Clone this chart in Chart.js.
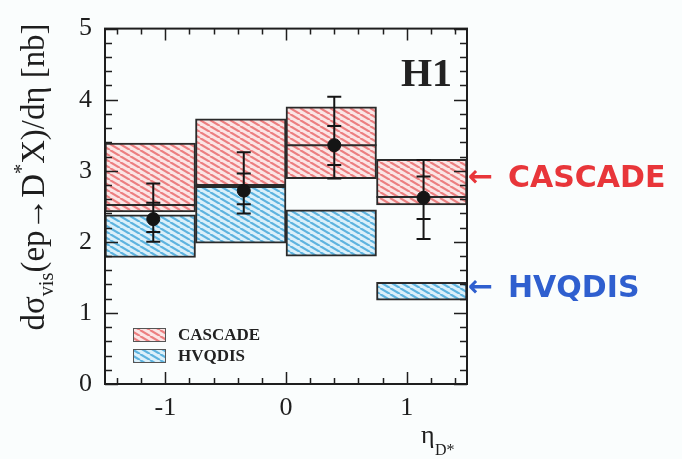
<!DOCTYPE html>
<html>
<head>
<meta charset="utf-8">
<script src="https://cdn.jsdelivr.net/npm/chart.js@4.4.1/dist/chart.umd.min.js"></script>
<style>
html,body{margin:0;padding:0;background:#fafdfd;}
#wrap{width:682px;height:459px;position:relative;}
</style>
</head>
<body>
<div id="wrap"><canvas id="c"></canvas></div>
<script>
// ---- data ----
const binEdges = [-1.5, -0.75, 0, 0.75, 1.5];
const binCenters = [-1.125, -0.375, 0.375, 1.125];
const cascadeLow = [2.42, 2.79, 2.89, 2.52];
const cascadeHigh = [3.39, 3.73, 3.90, 3.16];
const cascadeCentral = [2.52, 2.79, 3.36, 2.63];
const hvqdisLow = [1.78, 1.98, 1.80, 1.18];
const hvqdisHigh = [2.38, 2.78, 2.45, 1.43];
const dataEta = [-1.10, -0.35, 0.40, 1.14];
const dataXsec = [2.32, 2.72, 3.36, 2.62];
const statLow = [2.14, 2.53, 3.08, 2.32];
const statHigh = [2.55, 2.96, 3.63, 2.92];
const totLow = [2.00, 2.40, 2.89, 2.04];
const totHigh = [2.82, 3.26, 4.04, 3.15];
const xTicks = [-1, 0, 1];
const yTicks = [0, 1, 2, 3, 4, 5];
const seriesNames = ['CASCADE', 'HVQDIS'];

const SERIF = '"Liberation Serif", "DejaVu Serif", serif';

function makePattern(bg, fg) {
  const c = document.createElement('canvas');
  c.width = 10; c.height = 6;
  const g = c.getContext('2d');
  g.fillStyle = bg; g.fillRect(0, 0, 10, 6);
  g.strokeStyle = fg; g.lineWidth = 2.2;
  for (const k of [-10, 0, 10]) {
    g.beginPath(); g.moveTo(k, 0); g.lineTo(k + 10, 6); g.stroke();
  }
  return g.createPattern(c, 'repeat');
}
const redPat = makePattern('#fbe6e6', '#ec7f80');
const bluePat = makePattern('#dcf0fa', '#5db3df');

// derived mark lists built from the arrays above
const errSegs = [];
dataEta.forEach((x, i) => {
  errSegs.push({x, y: totLow[i]}, {x, y: totHigh[i]}, {x, y: null});
});
const caps = [];
dataEta.forEach((x, i) => {
  caps.push({x, y: totLow[i]}, {x, y: totHigh[i]}, {x, y: statLow[i]}, {x, y: statHigh[i]});
});
const centralSegs = [];
cascadeCentral.forEach((v, i) => {
  centralSegs.push({x: binEdges[i], y: v}, {x: binEdges[i + 1], y: v}, {x: binEdges[i + 1], y: null});
});

const decor = {
  id: 'decor',
  beforeDraw(chart) {
    const c = chart.ctx;
    c.save(); c.fillStyle = '#fafdfd'; c.fillRect(0, 0, chart.width, chart.height); c.restore();
  },
  afterDraw(chart) {
    const c = chart.ctx;
    const a = chart.chartArea;
    const xs = chart.scales.x, ys = chart.scales.y;
    c.save();
    // frame
    c.strokeStyle = '#1e1e1e'; c.lineWidth = 2;
    c.strokeRect(a.left, a.top, a.right - a.left, a.bottom - a.top);
    // y ticks (inside, both sides)
    c.lineWidth = 1.5;
    for (let k = 0; k <= 25; k++) {
      const v = k * 0.2;
      const y = Math.round(ys.getPixelForValue(v)) + 0.5;
      const len = (k % 5 === 0) ? 13 : 7;
      c.beginPath();
      c.moveTo(a.left, y); c.lineTo(a.left + len, y);
      c.moveTo(a.right, y); c.lineTo(a.right - len, y);
      c.stroke();
    }
    // x ticks
    for (let k = -7; k <= 7; k++) {
      const v = k * 0.2;
      const x = Math.round(xs.getPixelForValue(v)) + 0.5;
      const len = (k % 5 === 0) ? 12 : 6;
      c.beginPath();
      c.moveTo(x, a.bottom); c.lineTo(x, a.bottom - len);
      c.moveTo(x, a.top); c.lineTo(x, a.top + len);
      c.stroke();
    }
    // legend
    const pats = [redPat, bluePat];
    c.font = 'bold 17px ' + SERIF;
    c.textBaseline = 'middle';
    seriesNames.forEach((n, i) => {
      const y0 = 328 + i * 21;
      c.fillStyle = pats[i];
      c.fillRect(133, y0, 33, 14);
      c.strokeStyle = '#555'; c.lineWidth = 1;
      c.strokeRect(133.5, y0 + 0.5, 32, 13);
      c.fillStyle = '#222';
      c.fillText(n, 178, y0 + 8);
    });
    // H1 label
    c.font = 'bold 40px ' + SERIF;
    c.textBaseline = 'alphabetic';
    c.fillStyle = '#222';
    c.fillText('H1', 401, 86);
    // y title
    c.save();
    c.translate(44, 177);
    c.rotate(-Math.PI / 2);
    let fs = 28;
    const parts = [
      {t: 'dσ', s: 1, dy: 0},
      {t: 'vis', s: 0.62, dy: 0.28},
      {t: '(ep→D', s: 1, dy: 0},
      {t: '*', s: 0.62, dy: -0.5},
      {t: 'X)/dη [nb]', s: 1, dy: 0}
    ];
    const measure = (f) => parts.reduce((w, p) => { c.font = (f * p.s) + 'px ' + SERIF; return w + c.measureText(p.t).width; }, 0);
    fs = fs * 307 / measure(fs);
    let tx = -measure(fs) / 2;
    c.fillStyle = '#1e1e1e';
    parts.forEach(p => {
      c.font = (fs * p.s) + 'px ' + SERIF;
      c.fillText(p.t, tx, p.dy * fs);
      tx += c.measureText(p.t).width;
    });
    c.restore();
    // x title
    c.font = '26px ' + SERIF;
    c.fillStyle = '#1e1e1e';
    c.fillText('η', 421, 443);
    c.font = '16px ' + SERIF;
    c.fillText('D*', 435, 455);
    // handwritten-style annotations
    c.textBaseline = 'middle';
    c.fillStyle = '#e8363a';
    c.font = 'bold 30px "DejaVu Sans", sans-serif';
    c.fillText('←', 468, 178, 34);
    c.fillText('CASCADE', 508, 179, 158);
    c.fillStyle = '#2f5fcf';
    c.fillText('←', 468, 288, 34);
    c.fillText('HVQDIS', 508, 289, 142);
    c.restore();
  }
};

new Chart(document.getElementById('c'), {
  type: 'bar',
  data: {
    datasets: [
      {type: 'scatter', label: 'data', data: dataEta.map((x, i) => ({x, y: dataXsec[i]})),
       pointStyle: 'circle', pointRadius: 6.5, backgroundColor: '#151515', borderColor: '#151515', order: 1},
      {type: 'scatter', label: 'caps', data: caps, pointStyle: 'line', pointRadius: 7,
       borderWidth: 2, borderColor: '#151515', order: 2},
      {type: 'line', label: 'errors', data: errSegs, borderColor: '#151515', borderWidth: 2,
       pointRadius: 0, spanGaps: false, fill: false, order: 3},
      {type: 'line', label: 'central', data: centralSegs, borderColor: '#2a2a2a', borderWidth: 2,
       pointRadius: 0, spanGaps: false, fill: false, order: 4},
      {type: 'bar', label: seriesNames[1], data: binCenters.map((x, i) => ({x, y: [hvqdisLow[i], hvqdisHigh[i]]})),
       backgroundColor: bluePat, borderColor: '#2a2a2a', borderWidth: 2, borderSkipped: false,
       grouped: false, barPercentage: 1, categoryPercentage: 1, order: 5},
      {type: 'bar', label: seriesNames[0], data: binCenters.map((x, i) => ({x, y: [cascadeLow[i], cascadeHigh[i]]})),
       backgroundColor: redPat, borderColor: '#2a2a2a', borderWidth: 2, borderSkipped: false,
       grouped: false, barPercentage: 1, categoryPercentage: 1, order: 6}
    ]
  },
  options: {
    responsive: true,
    maintainAspectRatio: false,
    animation: false,
    layout: {padding: {top: 22, right: 215, bottom: 0, left: 0}},
    plugins: {legend: {display: false}, tooltip: {enabled: false}},
    scales: {
      x: {
        type: 'linear', min: -1.5, max: 1.5, offset: false,
        afterBuildTicks: s => { s.ticks = xTicks.map(v => ({value: v})); },
        ticks: {font: {family: SERIF, size: 26}, color: '#1e1e1e', padding: 9, callback: v => String(v)},
        grid: {display: false, drawTicks: false},
        border: {display: false},
        afterFit: s => { s.height = 75; }
      },
      y: {
        type: 'linear', min: 0, max: 5,
        afterBuildTicks: s => { s.ticks = yTicks.map(v => ({value: v})); },
        ticks: {font: {family: SERIF, size: 26}, color: '#1e1e1e', padding: 13, callback: v => String(v)},
        grid: {display: false, drawTicks: false},
        border: {display: false},
        afterFit: s => { s.width = 105; }
      }
    }
  },
  plugins: [decor]
});
</script>
</body>
</html>
